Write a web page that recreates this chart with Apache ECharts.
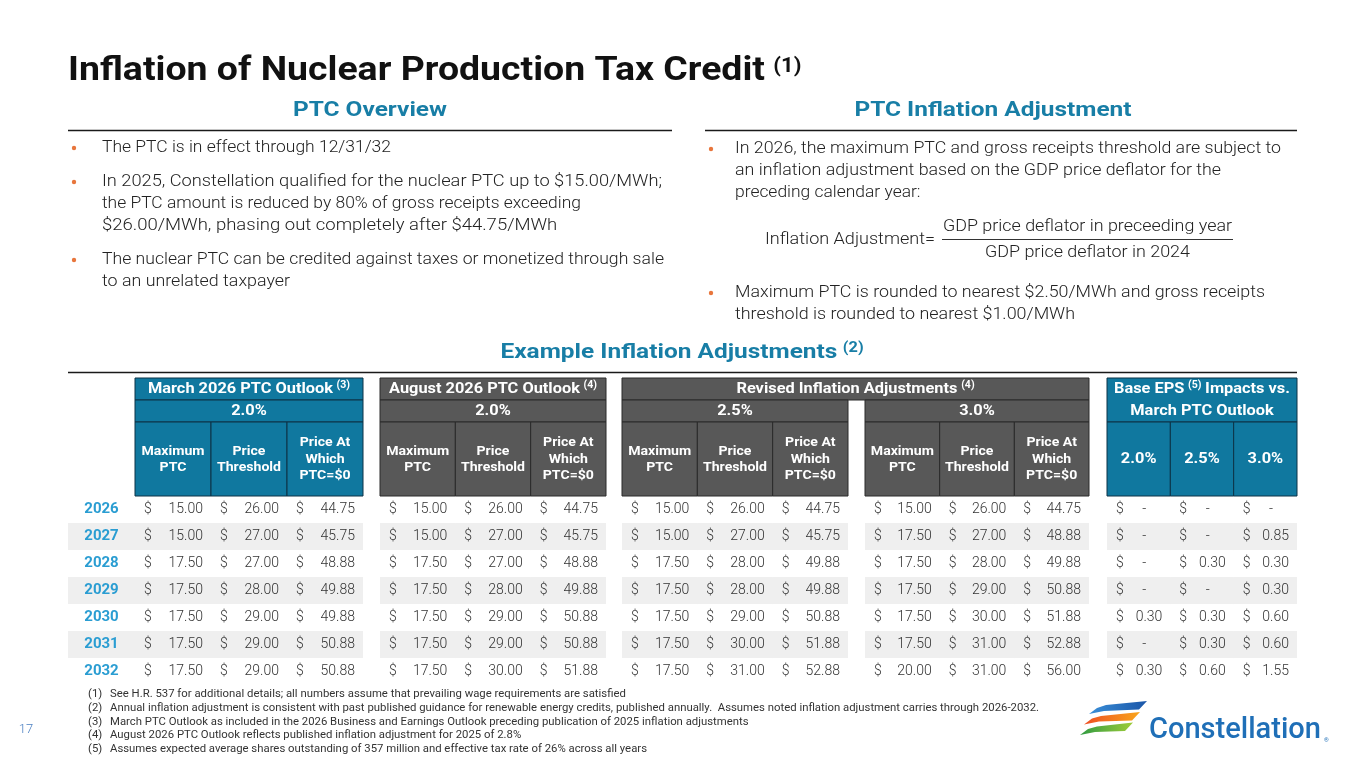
<!DOCTYPE html>
<html><head><meta charset="utf-8">
<script src="https://cdn.jsdelivr.net/npm/echarts@6/dist/echarts.min.js"></script>
<style>html,body{margin:0;padding:0;background:#fff}#c{width:1365px;height:768px}</style>
</head><body><div id="c"></div>
<script>
// ---------- data ----------
const years = ['2026','2027','2028','2029','2030','2031','2032'];
const marchMax  = [15.00, 15.00, 17.50, 17.50, 17.50, 17.50, 17.50];
const marchThr  = [26.00, 27.00, 27.00, 28.00, 29.00, 29.00, 29.00];
const marchZero = [44.75, 45.75, 48.88, 49.88, 49.88, 50.88, 50.88];
const augMax    = [15.00, 15.00, 17.50, 17.50, 17.50, 17.50, 17.50];
const augThr    = [26.00, 27.00, 27.00, 28.00, 29.00, 29.00, 30.00];
const augZero   = [44.75, 45.75, 48.88, 49.88, 50.88, 50.88, 51.88];
const rev25Max  = [15.00, 15.00, 17.50, 17.50, 17.50, 17.50, 17.50];
const rev25Thr  = [26.00, 27.00, 28.00, 28.00, 29.00, 30.00, 31.00];
const rev25Zero = [44.75, 45.75, 49.88, 49.88, 50.88, 51.88, 52.88];
const rev30Max  = [15.00, 17.50, 17.50, 17.50, 17.50, 17.50, 20.00];
const rev30Thr  = [26.00, 27.00, 28.00, 29.00, 30.00, 31.00, 31.00];
const rev30Zero = [44.75, 48.88, 49.88, 50.88, 51.88, 52.88, 56.00];
const eps20     = [0, 0, 0, 0, 0.30, 0, 0.30];
const eps25     = [0, 0, 0.30, 0, 0.30, 0.30, 0.60];
const eps30     = [0, 0.85, 0.30, 0.30, 0.60, 0.60, 1.55];

const colHeaders = ['Maximum\nPTC', 'Price\nThreshold', 'Price At\nWhich\nPTC=$0'];
const epsHeaders = ['2.0%', '2.5%', '3.0%'];
const leftBullets = [
  ['The PTC is in effect through 12/31/32'],
  ['In 2025, Constellation qualified for the nuclear PTC up to $15.00/MWh;',
   'the PTC amount is reduced by 80% of gross receipts exceeding',
   '$26.00/MWh, phasing out completely after $44.75/MWh'],
  ['The nuclear PTC can be credited against taxes or monetized through sale',
   'to an unrelated taxpayer']
];
const rightBullets = [
  ['In 2026, the maximum PTC and gross receipts threshold are subject to',
   'an inflation adjustment based on the GDP price deflator for the',
   'preceding calendar year:'],
  ['Maximum PTC is rounded to nearest $2.50/MWh and gross receipts',
   'threshold is rounded to nearest $1.00/MWh']
];
const formulaLabel = 'Inflation Adjustment=';
const formulaNum = 'GDP price deflator in preceeding year';
const formulaDen = 'GDP price deflator in 2024';
const footnotes = [
  ['(1)', 'See H.R. 537 for additional details; all numbers assume that prevailing wage requirements are satisfied'],
  ['(2)', 'Annual inflation adjustment is consistent with past published guidance for renewable energy credits, published annually.  Assumes noted inflation adjustment carries through 2026-2032.'],
  ['(3)', 'March PTC Outlook as included in the 2026 Business and Earnings Outlook preceding publication of 2025 inflation adjustments'],
  ['(4)', 'August 2026 PTC Outlook reflects published inflation adjustment for 2025 of 2.8%'],
  ['(5)', 'Assumes expected average shares outstanding of 357 million and effective tax rate of 26% across all years']
];

// ---------- style / layout ----------
const FAM = 'Roboto, "Noto Sans", sans-serif';
const BLUE = '#10789f', BLUE_S = '#0c3347', GRAY = '#585858', GRAY_S = '#2a2a2a';
const TEAL = '#187ea6', YEARC = '#2a9dd2', TXT = '#222222', VAL = '#333333', BAND = '#efefef', ORANGE = '#e8763c';
const blocks = [
  {x0: 135, x1: 363, data: [marchMax, marchThr, marchZero], eps: false},
  {x0: 380, x1: 606, data: [augMax, augThr, augZero], eps: false},
  {x0: 622, x1: 848, data: [rev25Max, rev25Thr, rev25Zero], eps: false},
  {x0: 865, x1: 1089, data: [rev30Max, rev30Thr, rev30Zero], eps: false},
  {x0: 1107, x1: 1297, data: [eps20, eps25, eps30], eps: true}
];
const yearCol = {x0: 68, x1: 135};
const HT = 378, H1 = 400, H2 = 422, BT = 496, RH = 27;
// layout: rendered widths of the body text lines (px)
const leftWidths = [[289], [560, 461, 458], [562, 188]];
const rightWidths = [[546, 486, 180], [530, 340]];

const ctx = document.createElement('canvas').getContext('2d');
function tw(t, f) { ctx.font = f; return ctx.measureText(t).width; }
function font(size, weight) { return (weight || 'normal') + ' ' + size + 'px ' + FAM; }

function T(text, x, y, o) {
  o = o || {};
  return {type: 'text', x: x, y: y, scaleX: o.sx || 1, silent: true, z: 10,
    style: {text: text, fill: o.fill || TXT, font: o.font, textAlign: o.align || 'left',
      textVerticalAlign: o.va || 'middle', lineHeight: o.lh}};
}
function R(x, y, w, h, fill, stroke) {
  return {type: 'rect', silent: true, z: 5, shape: {x: x, y: y, width: w, height: h},
    style: {fill: fill, stroke: stroke || null, lineWidth: 1}};
}
function L(x1, y1, x2, y2, c, w) {
  return {type: 'line', silent: true, z: 5, shape: {x1: x1, y1: y1, x2: x2, y2: y2}, style: {stroke: c, lineWidth: w}};
}
function withSup(main, sup, x, y, mf, sf, fill, align, sx, dy) {
  sx = sx || 1;
  const w1 = tw(main, mf) * sx, gap = tw(' ', mf) * sx * 0.9, w2 = tw(sup, sf) * sx;
  const left = align === 'center' ? x - (w1 + gap + w2) / 2 : x;
  return [T(main, left, y, {font: mf, fill: fill, sx: sx}), T(sup, left + w1 + gap, y + (dy || -5), {font: sf, fill: fill, sx: sx})];
}

const G = [];
// title
const TF = font(34, 'bold');
const titleSX = 697 / tw('Inflation of Nuclear Production Tax Credit', TF);
G.push(...withSup('Inflation of Nuclear Production Tax Credit', '(1)', 68, 71, TF, font(20, 'bold'), '#111', 'left', titleSX, -4));

// section headers
const SF = font(21, 'bold');
const secSX = 154 / tw('PTC Overview', SF);
G.push(T('PTC Overview', 370, 111, {font: SF, fill: TEAL, align: 'center', sx: secSX}));
G.push(T('PTC Inflation Adjustment', 993, 111, {font: SF, fill: TEAL, align: 'center', sx: secSX}));
G.push(L(68, 130.5, 672, 130.5, '#1a1a1a', 1.5));
G.push(L(705, 130.5, 1297, 130.5, '#1a1a1a', 1.5));
G.push(...withSup('Example Inflation Adjustments', '(2)', 682, 353, SF, font(14, 'bold'), TEAL, 'center', secSX, -5));
G.push(L(68, 372.5, 1297, 372.5, '#1a1a1a', 1.5));

// bullets
const BF = font(17, '300');
const baseSX = 0.985 * 560 / tw(leftBullets[1][0], BF);
function fitS(target, text) { const s = target / tw(text, BF); return Math.max(baseSX * 0.97, Math.min(baseSX * 1.03, s)); }
function bullets(list, widths, tops, bx, tx) {
  list.forEach((p, i) => {
    G.push({type: 'circle', silent: true, shape: {cx: bx, cy: tops[i] + 0.5, r: 2.2}, style: {fill: ORANGE}});
    p.forEach((line, j) => {
      G.push(T(line, tx, tops[i] + j * 22.2, {font: BF, fill: TXT, sx: fitS(widths[i][j], line)}));
    });
  });
}
bullets(leftBullets, leftWidths, [147.5, 181.5, 259.5], 74, 102);
bullets(rightBullets, rightWidths, [148.5, 292.5], 711, 735);
// formula
G.push(T(formulaLabel, 935, 240, {font: BF, fill: TXT, sx: fitS(170, formulaLabel), align: 'right'}));
G.push(T(formulaNum, 1087.5, 227, {font: BF, fill: TXT, sx: fitS(289, formulaNum), align: 'center'}));
G.push(T(formulaDen, 1087.5, 252.5, {font: BF, fill: TXT, sx: fitS(205, formulaDen), align: 'center'}));
G.push(L(942, 239.5, 1233, 239.5, '#333', 1));

// table headers
const HF = font(15.5, 'bold');
const hdrSX = 185 / tw('March 2026 PTC Outlook', HF);
const CF = font(13, 'bold');
const colSX = Math.min(1.15, 64 / tw('Threshold', CF));
function colCells(x0, x1, fill, stroke, labels, f, sx) {
  const w = (x1 - x0) / 3;
  for (let i = 0; i < 3; i++) {
    G.push(R(x0 + i * w, H2, w, BT - H2, fill, stroke));
    G.push(T(labels[i], x0 + (i + 0.5) * w, (H2 + BT) / 2 + 0.5, {font: f, fill: '#fff', align: 'center', lh: 16.5, sx: sx}));
  }
}
function stdBlock(b, title, sup, rate, fill, stroke) {
  G.push(R(b.x0, HT, b.x1 - b.x0, H1 - HT, fill, stroke));
  G.push(...withSup(title, sup, (b.x0 + b.x1) / 2, (HT + H1) / 2, HF, font(10, 'bold'), '#fff', 'center', hdrSX, -4));
  G.push(R(b.x0, H1, b.x1 - b.x0, H2 - H1, fill, stroke));
  G.push(T(rate, (b.x0 + b.x1) / 2, (H1 + H2) / 2, {font: HF, fill: '#fff', align: 'center', sx: hdrSX}));
  colCells(b.x0, b.x1, fill, stroke, colHeaders, CF, colSX);
}
stdBlock(blocks[0], 'March 2026 PTC Outlook', '(3)', '2.0%', BLUE, BLUE_S);
stdBlock(blocks[1], 'August 2026 PTC Outlook', '(4)', '2.0%', GRAY, GRAY_S);
// revised
G.push(R(blocks[2].x0, HT, blocks[3].x1 - blocks[2].x0, H1 - HT, GRAY, GRAY_S));
G.push(...withSup('Revised Inflation Adjustments', '(4)', (blocks[2].x0 + blocks[3].x1) / 2, (HT + H1) / 2, HF, font(10, 'bold'), '#fff', 'center', hdrSX, -4));
[[blocks[2], '2.5%'], [blocks[3], '3.0%']].forEach(([b, rate]) => {
  G.push(R(b.x0, H1, b.x1 - b.x0, H2 - H1, GRAY, GRAY_S));
  G.push(T(rate, (b.x0 + b.x1) / 2, (H1 + H2) / 2, {font: HF, fill: '#fff', align: 'center', sx: hdrSX}));
  colCells(b.x0, b.x1, GRAY, GRAY_S, colHeaders, CF, colSX);
});
// EPS
const be = blocks[4];
G.push(R(be.x0, HT, be.x1 - be.x0, H2 - HT, BLUE, BLUE_S));
(function () {
  const sf = font(10, 'bold');
  const wA = tw('Base EPS', HF) * hdrSX, g = tw(' ', HF) * hdrSX * 0.9, wS = tw('(5)', sf) * hdrSX, wB = tw('Impacts vs.', HF) * hdrSX;
  const cx = (be.x0 + be.x1) / 2, left = cx - (wA + g + wS + g + wB) / 2;
  G.push(T('Base EPS', left, 389, {font: HF, fill: '#fff', sx: hdrSX}));
  G.push(T('(5)', left + wA + g, 385, {font: sf, fill: '#fff', sx: hdrSX}));
  G.push(T('Impacts vs.', left + wA + g + wS + g, 389, {font: HF, fill: '#fff', sx: hdrSX}));
  G.push(T('March PTC Outlook', cx, 411, {font: HF, fill: '#fff', align: 'center', sx: hdrSX}));
})();
colCells(be.x0, be.x1, BLUE, BLUE_S, epsHeaders, font(15.5, 'bold'), hdrSX);

// footnotes
const FF = font(11.5, 'normal');
const fnSX = 537 / tw(footnotes[4][1], FF);
footnotes.forEach((f, i) => {
  const y = 694.5 + i * 13.7;
  G.push(T(f[0], 88, y, {font: FF, fill: '#333', sx: fnSX}));
  G.push(T(f[1], 110, y, {font: FF, fill: '#333', sx: fnSX}));
});
G.push(T('17', 26, 730, {font: font(13, '300'), fill: '#4a7fc1', align: 'center'}));

// logo
function grad(c1, c2) { return {type: 'linear', x: 0, y: 0, x2: 1, y2: 0, colorStops: [{offset: 0, color: c1}, {offset: 1, color: c2}]}; }
G.push({type: 'polygon', silent: true, shape: {points: [[1089, 714], [1097, 708], [1106, 705], [1147, 701], [1139, 709.5], [1104, 711]]}, style: {fill: grad('#3a8fd8', '#1b56a8')}});
G.push({type: 'polygon', silent: true, shape: {points: [[1084, 724.5], [1092, 718.5], [1101, 716], [1140, 712], [1132, 720.5], [1099, 721.5]]}, style: {fill: grad('#ee4e23', '#f9a51c')}});
G.push({type: 'polygon', silent: true, shape: {points: [[1080, 735], [1088, 729], [1097, 726.5], [1133, 722.5], [1125, 731], [1095, 732]]}, style: {fill: grad('#2f9a41', '#9fcc3b')}});
const LF = font(29, '500');
G.push(T('Constellation', 1149, 731, {font: LF, fill: '#1f6fb7', sx: 172 / tw('Constellation', LF)}));
G.push(T('®', 1324, 740, {font: font(6), fill: '#1f6fb7'}));

// ---------- grids / series ----------
const allCols = [yearCol].concat(blocks);
const grids = allCols.map(b => ({left: b.x0, top: BT, width: b.x1 - b.x0, height: RH * years.length}));
const xAxes = allCols.map((b, i) => ({type: 'category', gridIndex: i, show: false, data: i === 0 ? ['Year'] : ['Maximum PTC', 'Price Threshold', 'Price At Which PTC=$0']}));
const yAxes = allCols.map((b, i) => ({type: 'category', gridIndex: i, show: false, inverse: true, data: years}));

const VF = font(14, '300');
const series = [{
  type: 'custom', xAxisIndex: 0, yAxisIndex: 0, encode: {x: 0, y: 1},
  data: years.map((y, i) => [0, i]),
  renderItem: function (params, api) {
    const row = api.value(1), c = api.coord([0, row]), s = api.size([1, 1]);
    return {type: 'group', children: [
      {type: 'rect', shape: {x: c[0] - s[0] / 2, y: c[1] - s[1] / 2, width: s[0] + 0.6, height: s[1] + 0.3}, style: {fill: row % 2 ? BAND : '#fff'}},
      {type: 'text', style: {text: years[row], x: c[0], y: c[1], textAlign: 'center', textVerticalAlign: 'middle', fill: YEARC, font: font(15, 'bold')}}
    ]};
  }
}];
blocks.forEach((b, bi) => {
  const d = [];
  b.data.forEach((arr, ci) => arr.forEach((v, ri) => d.push([ci, ri, v])));
  series.push({
    type: 'custom', xAxisIndex: bi + 1, yAxisIndex: bi + 1, encode: {x: 0, y: 1}, data: d,
    renderItem: function (params, api) {
      const col = api.value(0), row = api.value(1), v = api.value(2);
      const c = api.coord([col, row]), s = api.size([1, 1]);
      const x0 = c[0] - s[0] / 2, y0 = c[1] - s[1] / 2;
      const zero = b.eps && v === 0;
      return {type: 'group', children: [
        {type: 'rect', shape: {x: x0, y: y0, width: s[0] + (col < 2 ? 0.6 : 0), height: s[1] + 0.3}, style: {fill: row % 2 ? BAND : '#fff'}},
        {type: 'text', style: {text: '$', x: x0 + 9, y: c[1], textAlign: 'left', textVerticalAlign: 'middle', fill: VAL, font: VF}},
        {type: 'text', style: {text: zero ? '-' : v.toFixed(2), x: x0 + s[0] - (zero ? 24 : 8), y: c[1], textAlign: 'right', textVerticalAlign: 'middle', fill: VAL, font: VF}}
      ]};
    }
  });
});

const chart = echarts.init(document.getElementById('c'));
chart.setOption({
  backgroundColor: '#ffffff',
  animation: false,
  grid: grids, xAxis: xAxes, yAxis: yAxes, series: series,
  graphic: {elements: G}
});
</script></body></html>
